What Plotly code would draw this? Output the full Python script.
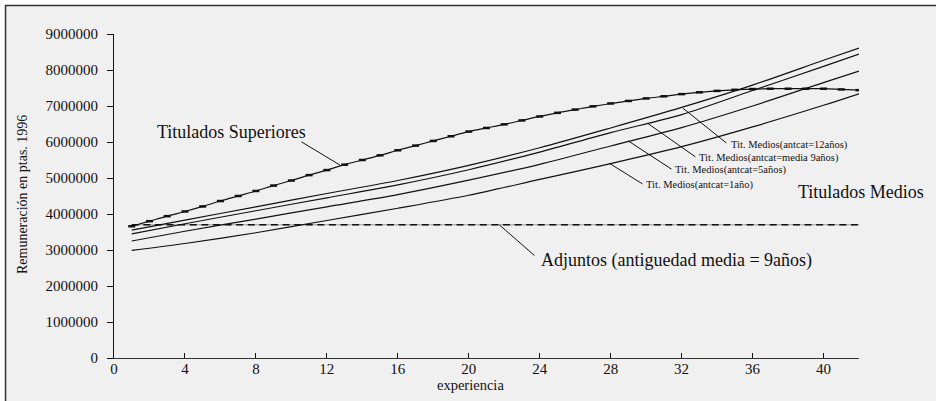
import plotly.graph_objects as go

# ---------------- data ----------------
sup_x = list(range(1, 43))
sup_y = [3.66, 3.80, 3.94, 4.07, 4.21, 4.36, 4.50, 4.64, 4.79, 4.93,
         5.08, 5.22, 5.37, 5.50, 5.63, 5.77, 5.90, 6.03, 6.16, 6.29,
         6.39, 6.49, 6.60, 6.71, 6.81, 6.90, 6.99, 7.07, 7.14, 7.21,
         7.27, 7.33, 7.38, 7.42, 7.45, 7.47, 7.48, 7.48, 7.48, 7.48,
         7.46, 7.44]

med_x = [1, 4, 8, 12, 16, 20, 24, 28, 32, 36, 40, 42]
med12_y = [3.55, 3.83, 4.20, 4.57, 4.93, 5.35, 5.84, 6.39, 6.96, 7.58, 8.27, 8.61]
med9_y = [3.45, 3.73, 4.09, 4.45, 4.81, 5.23, 5.72, 6.26, 6.76, 7.43, 8.10, 8.44]
med5_y = [3.25, 3.52, 3.86, 4.20, 4.54, 4.94, 5.38, 5.89, 6.40, 7.00, 7.65, 7.97]
med1_y = [2.99, 3.18, 3.48, 3.82, 4.16, 4.52, 4.96, 5.40, 5.87, 6.42, 7.02, 7.34]

adj_x = [1, 42]
adj_y = [3.70, 3.70]

x_ticks = [0, 4, 8, 12, 16, 20, 24, 28, 32, 36, 40]
y_ticks = [0, 1000000, 2000000, 3000000, 4000000, 5000000,
           6000000, 7000000, 8000000, 9000000]

M = 1e6
SERIF = "Liberation Serif, Times New Roman, serif"

fig = go.Figure()

# Adjuntos: light solid line with dashed overlay
fig.add_trace(go.Scatter(x=adj_x, y=[v * M for v in adj_y], mode="lines",
                         line=dict(color="#9a9a9a", width=1), hoverinfo="skip",
                         showlegend=False))
fig.add_trace(go.Scatter(x=adj_x, y=[v * M for v in adj_y], mode="lines",
                         line=dict(color="#111", width=1.6, dash="7px,4.6px"),
                         showlegend=False))

for ys in (med12_y, med9_y, med5_y, med1_y):
    fig.add_trace(go.Scatter(x=med_x, y=[v * M for v in ys], mode="lines",
                             line=dict(color="#111", width=1.2, shape="spline",
                                       smoothing=0.8),
                             showlegend=False))

fig.add_trace(go.Scatter(x=sup_x, y=[v * M for v in sup_y], mode="lines+markers",
                         line=dict(color="#111", width=1.2, shape="spline"),
                         marker=dict(symbol="line-ew", size=5,
                                     line=dict(color="#111", width=2.5)),
                         showlegend=False))

# ---------------- annotations ----------------
def label(text, x, y, size, anchor="left"):
    fig.add_annotation(x=x, y=y * M, xref="x", yref="y", text=text,
                       showarrow=False, xanchor=anchor, yanchor="middle",
                       font=dict(family=SERIF, size=size, color="#111"))

def leader(hx, hy, tx, ty):
    fig.add_annotation(x=hx, y=hy * M, xref="x", yref="y", text="",
                       showarrow=True, arrowhead=0, arrowwidth=1,
                       arrowcolor="#111", axref="x", ayref="y",
                       ax=tx, ay=ty * M, standoff=0, startstandoff=0)

label("Titulados Superiores", 10.94, 6.28, 18, "right")
leader(12.74, 5.36, 10.48, 6.03)

label("Adjuntos (antiguedad media = 9años)", 23.96, 2.72, 18)
leader(21.72, 3.70, 23.79, 2.81)

label("Titulados Medios", 38.44, 4.61, 18)

label("Tit. Medios(antcat=12años)", 34.67, 5.92, 10.5)
leader(32.07, 6.94, 34.61, 5.94)
label("Tit. Medios(antcat=media 9años)", 32.86, 5.56, 10.5)
leader(30.08, 6.52, 32.86, 5.56)
label("Tit. Medios(antcat=5años)", 31.51, 5.22, 10.5)
leader(28.99, 6.03, 31.51, 5.22)
label("Tit. Medios(antcat=1año)", 29.88, 4.81, 10.5)
leader(27.92, 5.41, 29.88, 4.81)

# axis titles
fig.add_annotation(xref="paper", yref="paper", x=-0.1235, y=0.506,
                   text="Remuneración en ptas. 1996", textangle=-90,
                   showarrow=False, xanchor="center", yanchor="middle",
                   font=dict(family=SERIF, size=14, color="#111"))
fig.add_annotation(xref="paper", yref="paper", x=0.478, y=-0.083,
                   text="experiencia", showarrow=False,
                   xanchor="center", yanchor="middle",
                   font=dict(family=SERIF, size=14.5, color="#111"))

# frame
fig.add_shape(type="rect", xref="paper", yref="paper",
              x0=-0.1456, x1=2, y0=-1, y1=1.088, layer="below",
              fillcolor="#f0f0f0", line=dict(color="#333", width=1.5))

fig.update_layout(
    width=936, height=401,
    margin=dict(l=114, r=77, t=34, b=43),
    paper_bgcolor="white", plot_bgcolor="rgba(0,0,0,0)",
    xaxis=dict(range=[0, 42], tickvals=x_ticks, ticks="inside", ticklen=5,
               tickcolor="#111", showline=True, linecolor="#333", linewidth=1.2,
               showgrid=False, zeroline=False, ticklabelstandoff=-3,
               tickfont=dict(family=SERIF, size=15, color="#111")),
    yaxis=dict(range=[0, 9000000], tickvals=y_ticks, tickformat="d",
               ticks="outside", ticklen=6, tickcolor="#111",
               showline=True, linecolor="#111", linewidth=1.2,
               showgrid=False, zeroline=False, ticklabelstandoff=6,
               tickfont=dict(family=SERIF, size=15, color="#111")),
)

fig.write_html("out.html",
               config={"displayModeBar": False},
               post_script="document.body.style.margin='0';"
                           "document.body.style.overflow='hidden';")
